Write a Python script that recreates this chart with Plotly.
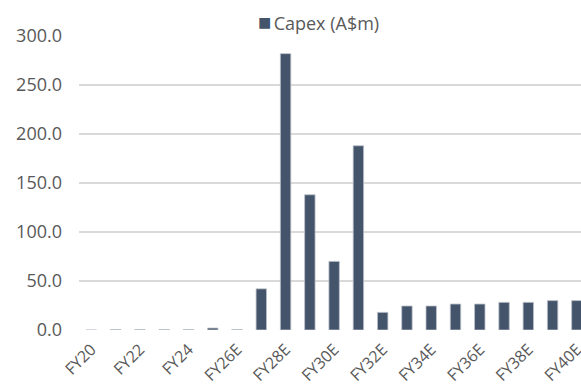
import plotly.graph_objects as go

categories = ["FY20", "FY21", "FY22", "FY23", "FY24", "FY25", "FY26E", "FY27E", "FY28E",
              "FY29E", "FY30E", "FY31E", "FY32E", "FY33E", "FY34E", "FY35E", "FY36E",
              "FY37E", "FY38E", "FY39E", "FY40E"]
capex = [0.0, 0.4, 0.4, 0.4, 0.4, 2.0, 0.4, 42.0, 282.0, 138.0, 70.0, 188.0, 18.0,
         24.5, 24.5, 26.5, 26.5, 28.2, 28.2, 30.0, 30.0]
tick_labels = ["FY20", "FY22", "FY24", "FY26E", "FY28E", "FY30E", "FY32E", "FY34E",
               "FY36E", "FY38E", "FY40E"]
y_ticks = [0, 50, 100, 150, 200, 250, 300]
series_name = "Capex (A$m)"
bar_color = "#44546A"

tick_positions = [i for i, c in enumerate(categories) if c in tick_labels]

fig = go.Figure()
fig.add_trace(go.Bar(
    x=list(range(len(categories))), y=capex, name=series_name,
    marker=dict(color=bar_color, line=dict(color="#BCC2CC", width=0.8)),
    showlegend=False,
))

# legend drawn as a text key (square swatch close to label, as in the original)
fig.add_annotation(
    text=(f"<span style='color:{bar_color};font-size:22px'>■</span>"
          f"<span style='font-size:9px'> </span>{series_name}"),
    xref="paper", yref="paper", x=(256 - 79) / (581 - 79), y=1 + (36 - 21) / 294,
    xanchor="left", yanchor="middle", showarrow=False,
    font=dict(family="Open Sans", size=18, color="#595959"),
)

fig.update_layout(
    width=581, height=387,
    margin=dict(l=79, r=0, t=36, b=57),
    paper_bgcolor="white", plot_bgcolor="white",
    font=dict(family="Open Sans", color="#595959", size=16),
    bargap=0.57,
    showlegend=False,
    xaxis=dict(range=[-0.51, 20.17], tickmode="array", tickvals=tick_positions,
               ticktext=tick_labels, tickangle=-45, showgrid=False, zeroline=False,
               showline=False, ticks="", automargin=False, ticklabelstandoff=6,
               ticklabeloverflow="allow",
               tickfont=dict(size=16, color="#595959")),
    yaxis=dict(range=[0, 300], tickvals=y_ticks, tickformat=".1f", showgrid=True,
               gridcolor="#D9D9D9", gridwidth=1.5, zeroline=False, showline=False,
               ticks="", ticklabelstandoff=16, automargin=False,
               tickfont=dict(size=18, color="#595959")),
)

fig.write_html("out.html")
